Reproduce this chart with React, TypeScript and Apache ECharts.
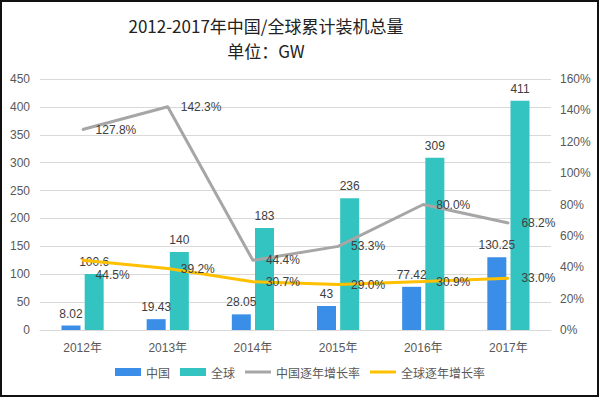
import React, { useEffect, useRef } from "react";
import * as echarts from "echarts";

const categories = ["2012年", "2013年", "2014年", "2015年", "2016年", "2017年"];
const chinaInstalled = [8.02, 19.43, 28.05, 43, 77.42, 130.25];
const globalInstalled = [100.6, 140, 183, 236, 309, 411];
const chinaGrowth = [127.8, 142.3, 44.4, 53.3, 80.0, 68.2];
const globalGrowth = [44.5, 39.2, 30.7, 29.0, 30.9, 33.0];

const FONT = "'Liberation Sans', 'Noto Sans CJK SC', sans-serif";
const LINE_ICON = "path://M0,0H26V3H0Z";

export default function App() {
  const ref = useRef<HTMLDivElement>(null);
  useEffect(() => {
    if (!ref.current) return;
    const chart = echarts.init(ref.current, undefined, { renderer: "svg" });
    const labelStyle = { fontSize: 12, color: "#404040", fontFamily: FONT };
    chart.setOption({
      animation: false,
      backgroundColor: "#fff",
      title: {
        text: "2012-2017年中国/全球累计装机总量\n单位：GW",
        left: 261,
        textAlign: "center",
        top: 8,
        textStyle: {
          fontSize: 17,
          fontWeight: "normal",
          color: "#222",
          lineHeight: 25,
          fontFamily: "'Noto Sans CJK SC', sans-serif",
        },
      },
      graphic: [
        {
          type: "rect",
          shape: { x: 1, y: 1, width: 597, height: 395 },
          style: { fill: "none", stroke: "#111", lineWidth: 2 },
          z: 100,
        },
      ],
      legend: {
        bottom: 16,
        left: "center",
        itemWidth: 26,
        itemHeight: 8,
        itemGap: 10,
        symbolKeepAspect: true,
        textStyle: { fontSize: 12, color: "#595959", fontFamily: "'Noto Sans CJK SC', sans-serif" },
        data: [
          { name: "中国", icon: "rect" },
          { name: "全球", icon: "rect" },
          { name: "中国逐年增长率", icon: LINE_ICON },
          { name: "全球逐年增长率", icon: LINE_ICON },
        ],
      },
      grid: { left: 40, right: 49, top: 79, bottom: 69 },
      xAxis: {
        type: "category",
        data: categories,
        axisTick: { show: false },
        axisLine: { lineStyle: { color: "#d9d9d9" } },
        axisLabel: { fontSize: 12, color: "#595959", margin: 12, fontFamily: FONT },
      },
      yAxis: [
        {
          type: "value",
          min: 0,
          max: 450,
          interval: 50,
          axisLabel: { fontSize: 12, color: "#595959", margin: 10, fontFamily: FONT },
          splitLine: { lineStyle: { color: "#d9d9d9" } },
          axisLine: { show: false },
          axisTick: { show: false },
        },
        {
          type: "value",
          min: 0,
          max: 160,
          interval: 20,
          axisLabel: { fontSize: 12, color: "#595959", margin: 9, formatter: "{value}%", fontFamily: FONT },
          splitLine: { show: false },
          axisLine: { show: false },
          axisTick: { show: false },
        },
      ],
      series: [
        {
          name: "中国",
          type: "bar",
          data: chinaInstalled,
          barWidth: 19,
          barGap: "22%",
          itemStyle: { color: "#3a8ee8" },
          label: { show: true, position: "top", distance: 6, ...labelStyle },
          z: 2,
        },
        {
          name: "全球",
          type: "bar",
          data: globalInstalled,
          barWidth: 19,
          itemStyle: { color: "#33c3c0" },
          label: { show: true, position: "top", distance: 6, ...labelStyle },
          z: 2,
        },
        {
          name: "中国逐年增长率",
          type: "line",
          yAxisIndex: 1,
          data: chinaGrowth,
          symbol: "circle",
          symbolSize: 2,
          showSymbol: true,
          lineStyle: { color: "#a6a6a6", width: 3 },
          itemStyle: { color: "#a6a6a6" },
          label: {
            show: true,
            position: "right",
            distance: 12,
            formatter: (p: any) => Number(p.value).toFixed(1) + "%",
            ...labelStyle,
          },
          z: 5,
        },
        {
          name: "全球逐年增长率",
          type: "line",
          yAxisIndex: 1,
          data: globalGrowth.map((v, i) =>
            i === 0 ? { value: v, label: { offset: [0, 15] } } : v
          ),
          symbol: "circle",
          symbolSize: 2,
          showSymbol: true,
          lineStyle: { color: "#ffc000", width: 3 },
          itemStyle: { color: "#ffc000" },
          label: {
            show: true,
            position: "right",
            distance: 12,
            formatter: (p: any) => Number(p.value).toFixed(1) + "%",
            ...labelStyle,
          },
          z: 6,
        },
      ],
    });
    return () => chart.dispose();
  }, []);
  return <div ref={ref} style={{ width: 600, height: 399, position: "absolute", left: 0, top: 0 }} />;
}
